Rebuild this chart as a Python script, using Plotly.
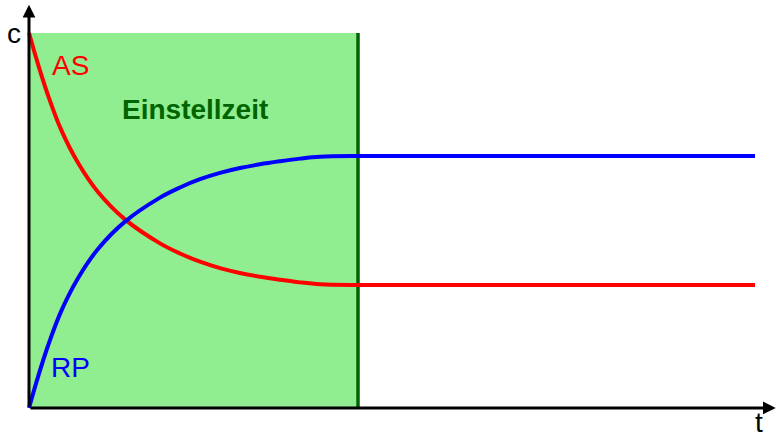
import plotly.graph_objects as go

# Zeit (willkürliche Einheiten) und Konzentrationen
t = [0, 0.136, 0.287, 0.483, 0.740, 1.042, 1.450, 1.979, 2.281, 2.583, 2.885,
     3.187, 3.489, 3.792, 4.094, 4.396, 4.955, 6.0, 10.967]
c_as = [1.0, 0.917, 0.834, 0.743, 0.654, 0.576, 0.503, 0.439, 0.412, 0.390, 0.373,
        0.360, 0.350, 0.342, 0.335, 0.330, 0.328, 0.328, 0.328]
c_rp = [0.0, 0.083, 0.166, 0.257, 0.346, 0.424, 0.497, 0.561, 0.588, 0.610, 0.627,
        0.640, 0.650, 0.658, 0.665, 0.670, 0.672, 0.672, 0.672]

t_einstell = 4.97
t_max = 11.28
c_max = 1.075

fig = go.Figure()

fig.add_trace(go.Scatter(x=t, y=c_as, mode='lines', line=dict(color='#ff0000', width=4, shape='spline', smoothing=1),
                         hoverinfo='skip', showlegend=False))
fig.add_trace(go.Scatter(x=t, y=c_rp, mode='lines', line=dict(color='#0000ff', width=4, shape='spline', smoothing=1),
                         hoverinfo='skip', showlegend=False))

# Einstellzeit-Bereich
fig.add_shape(type='rect', x0=0, x1=t_einstell, y0=0, y1=1, fillcolor='#90ee90', line_width=0, layer='below')
fig.add_shape(type='line', x0=t_einstell, x1=t_einstell, y0=0, y1=1, line=dict(color='#006400', width=3.5), layer='below')

# Achsen mit Pfeilen
for (x, y) in [(t_max, 0), (0, c_max)]:
    fig.add_annotation(x=x, y=y, ax=0, ay=0, xref='x', yref='y', axref='x', ayref='y',
                       text='', showarrow=True, arrowhead=2, arrowsize=0.85, arrowwidth=3,
                       arrowcolor='black', standoff=0)

font = 'Liberation Sans, Arial, sans-serif'
labels = [('c', -0.227, 0.998, 'black', False),
          ('AS', 0.62, 0.913, '#ff0000', False),
          ('RP', 0.634, 0.108, '#0000ff', False),
          ('Einstellzeit', 2.51, 0.795, '#006400', True),
          ('t', 11.03, -0.04, 'black', False)]
for txt, x, y, col, bold in labels:
    fig.add_annotation(x=x, y=y, text='<b>%s</b>' % txt if bold else txt, showarrow=False,
                       font=dict(family=font, size=28, color=col), xanchor='center', yanchor='middle')

fig.update_layout(width=776, height=436, margin=dict(l=0, r=0, t=0, b=0),
                  plot_bgcolor='white', paper_bgcolor='white',
                  xaxis=dict(range=[-0.438, 11.284], visible=False, fixedrange=True),
                  yaxis=dict(range=[-0.0747, 1.088], visible=False, fixedrange=True))

fig.write_html("out.html", config={'displayModeBar': False},
               post_script="document.body.style.margin='0';")
